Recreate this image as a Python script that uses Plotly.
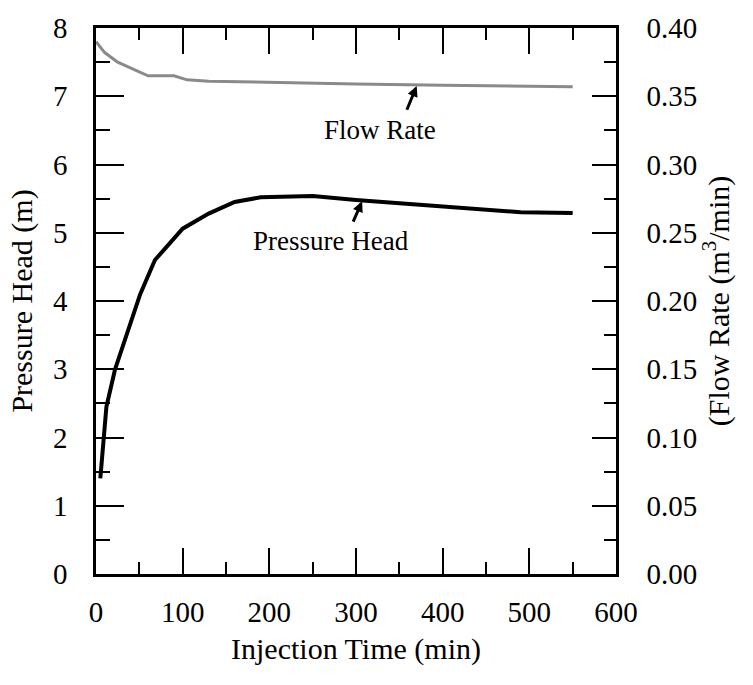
import plotly.graph_objects as go

# Data
t_head = [5, 12, 22, 31, 51, 68, 100, 130, 160, 190, 250, 300, 400, 490, 550]
pressure_head = [1.4, 2.45, 3.0, 3.35, 4.1, 4.6, 5.06, 5.28, 5.45, 5.52, 5.54, 5.48, 5.38, 5.3, 5.29]

t_flow = [0, 10, 25, 45, 60, 90, 105, 130, 200, 300, 400, 550]
flow_rate = [0.390, 0.382, 0.375, 0.369, 0.365, 0.365, 0.362, 0.361, 0.360, 0.359, 0.358, 0.357]

x_ticks = [0, 100, 200, 300, 400, 500, 600]
y_ticks = [0, 1, 2, 3, 4, 5, 6, 7, 8]
y2_ticks = [0.00, 0.05, 0.10, 0.15, 0.20, 0.25, 0.30, 0.35, 0.40]

FONT = "Times New Roman, Liberation Serif, serif"

fig = go.Figure()
fig.add_trace(go.Scatter(x=t_head, y=pressure_head, mode="lines",
                         line=dict(color="black", width=4), showlegend=False))
fig.add_trace(go.Scatter(x=t_flow, y=flow_rate, mode="lines", yaxis="y2",
                         line=dict(color="#8a8a8a", width=3), showlegend=False))

# labels with arrows
fig.add_annotation(x=370, y=0.3575, ax=358, ay=0.339, xref="x", yref="y2",
                   axref="x", ayref="y2", showarrow=True, arrowhead=2,
                   arrowsize=0.7, arrowwidth=3, arrowcolor="black", text="")
fig.add_annotation(x=328, y=0.325, xref="x", yref="y2", text="Flow Rate",
                   showarrow=False, font=dict(family=FONT, size=27, color="black"))
fig.add_annotation(x=307, y=5.46, ax=296, ay=5.14, xref="x", yref="y",
                   axref="x", ayref="y", showarrow=True, arrowhead=2,
                   arrowsize=0.7, arrowwidth=3, arrowcolor="black", text="")
fig.add_annotation(x=271, y=4.88, xref="x", yref="y", text="Pressure Head",
                   showarrow=False, font=dict(family=FONT, size=27, color="black"))

tickfont = dict(family=FONT, size=29, color="black")
titlefont = dict(family=FONT, size=30, color="black")

fig.update_layout(
    width=753, height=685,
    margin=dict(l=96, r=137, t=25, b=111),
    paper_bgcolor="white", plot_bgcolor="white",
    font=dict(family=FONT, color="black"),
    xaxis=dict(range=[0, 600], tickvals=x_ticks, ticks="inside", ticklen=26, tickwidth=2,
               tickcolor="black", minor=dict(dtick=50, ticks="inside", ticklen=12, tickwidth=2,
                                             tickcolor="black"),
               showline=True, linewidth=2.5, linecolor="black", mirror="ticks",
               showgrid=False, zeroline=False, tickfont=tickfont, ticklabelstandoff=10,
               title=dict(text="Injection Time (min)", font=titlefont, standoff=12)),
    yaxis=dict(range=[0, 8], tickvals=y_ticks, ticks="inside", ticklen=28, tickwidth=2,
               tickcolor="black", minor=dict(dtick=0.5, ticks="inside", ticklen=14, tickwidth=2,
                                             tickcolor="black"),
               showline=True, linewidth=2.5, linecolor="black",
               showgrid=False, zeroline=False, tickfont=tickfont, ticklabelstandoff=20,
               title=dict(text="Pressure Head (m)", font=titlefont, standoff=12)),
    yaxis2=dict(range=[0, 0.4], tickvals=y2_ticks, tickformat=".2f", overlaying="y", side="right",
                ticks="inside", ticklen=24, tickwidth=2, tickcolor="black",
                minor=dict(dtick=0.025, ticks="inside", ticklen=12, tickwidth=2, tickcolor="black"),
                showline=True, linewidth=2.5, linecolor="black",
                showgrid=False, zeroline=False, tickfont=tickfont, ticklabelstandoff=22,
                title=dict(text="(Flow Rate (m<sup>3</sup>/min)", font=titlefont, standoff=10)),
)

fig.write_html("out.html")
